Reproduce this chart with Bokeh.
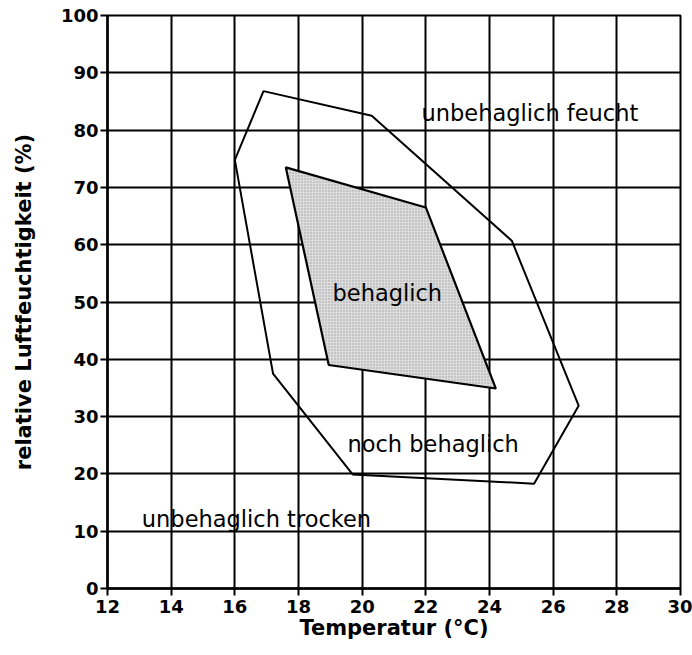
from bokeh.plotting import figure
from bokeh.models import ColumnDataSource, Range1d, FixedTicker
from bokeh.core.properties import value
from bokeh.embed import file_html
from bokeh.resources import INLINE

# Tick values
x_ticks = [12, 14, 16, 18, 20, 22, 24, 26, 28, 30]
y_ticks = [0, 10, 20, 30, 40, 50, 60, 70, 80, 90, 100]

# "noch behaglich" zone outline (temperature in degC, relative humidity in %)
outer_temp = [16.0, 16.9, 20.3, 24.7, 26.8, 25.4, 19.7, 17.2]
outer_rh = [74.8, 86.8, 82.5, 60.7, 31.9, 18.3, 19.9, 37.5]

# "behaglich" zone (shaded)
inner_temp = [17.6, 22.0, 24.2, 18.95]
inner_rh = [73.5, 66.5, 34.9, 39.0]

# Zone labels
zone_labels = ["unbehaglich feucht", "behaglich", "noch behaglich", "unbehaglich trocken"]
label_temp = [25.27, 20.79, 22.23, 16.68]
label_rh = [82.9, 51.6, 25.3, 12.2]

p = figure(
    width=692, height=655,
    x_range=Range1d(12, 30), y_range=Range1d(0, 100),
    output_backend="svg", toolbar_location=None,
    min_border_left=107, min_border_right=12,
    min_border_top=15, min_border_bottom=67,
)
p.background_fill_color = "white"
p.border_fill_color = "white"
p.outline_line_color = "black"
p.outline_line_width = 2

p.xaxis.ticker = FixedTicker(ticks=x_ticks)
p.yaxis.ticker = FixedTicker(ticks=y_ticks)

for ax in (p.xaxis, p.yaxis):
    ax.axis_line_color = "black"
    ax.axis_line_width = 2.5
    ax.major_tick_line_color = "black"
    ax.major_tick_line_width = 2
    ax.major_tick_out = 7
    ax.major_tick_in = 0
    ax.minor_tick_line_color = None
    ax.major_label_text_font = "DejaVu Sans"
    ax.major_label_text_font_style = "bold"
    ax.major_label_text_font_size = "18px"
    ax.major_label_text_color = "black"
    ax.axis_label_text_font = "DejaVu Sans"
    ax.axis_label_text_font_style = "bold"
    ax.axis_label_text_font_size = "21px"
    ax.axis_label_text_color = "black"

p.xaxis.axis_label = "Temperatur (°C)"
p.yaxis.axis_label = "relative Luftfeuchtigkeit (%)"
p.xaxis.major_label_standoff = 4
p.yaxis.major_label_standoff = 2
p.xaxis.axis_label_standoff = 0
p.yaxis.axis_label_standoff = 22

p.xgrid.ticker = FixedTicker(ticks=x_ticks)
p.ygrid.ticker = FixedTicker(ticks=y_ticks)
for g in (p.xgrid, p.ygrid):
    g.grid_line_color = "black"
    g.grid_line_width = 2
    g.grid_line_alpha = 1.0

p.patch(inner_temp, inner_rh, fill_color="#dcdcdc", line_color="black",
        line_width=2.2, hatch_pattern="dot", hatch_color="#777777",
        hatch_scale=3, hatch_weight=0.6, hatch_alpha=0.6)

p.line(outer_temp + [outer_temp[0]], outer_rh + [outer_rh[0]],
       line_color="black", line_width=2)

src = ColumnDataSource(dict(x=label_temp, y=label_rh, t=zone_labels))
p.text(x="x", y="y", text="t", source=src, text_font=value("DejaVu Sans"),
       text_font_size="22.5px", text_align="center", text_baseline="middle",
       text_color="black")

open("out.html", "w").write(file_html(p, INLINE))
